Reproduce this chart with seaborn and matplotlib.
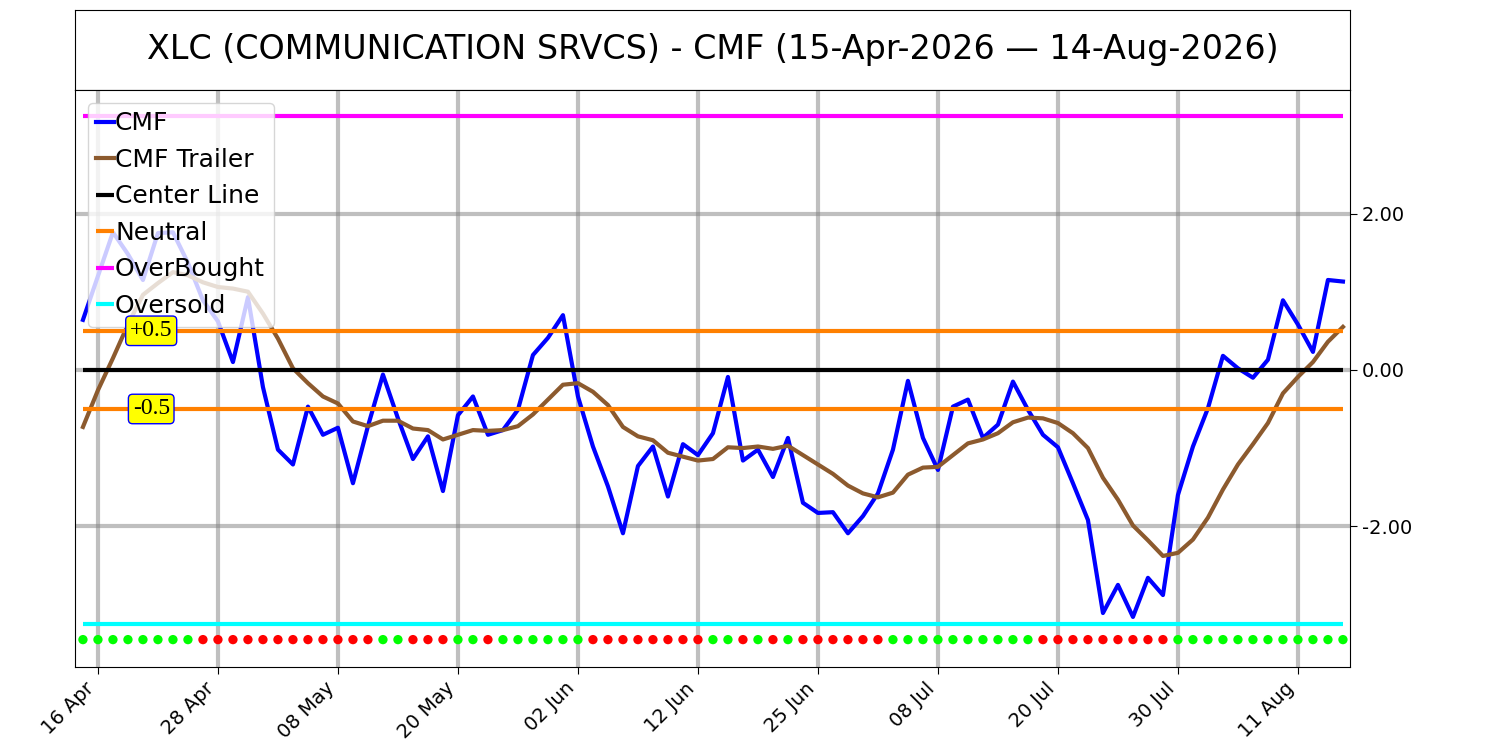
import numpy as np
import pandas as pd
import matplotlib
matplotlib.use('Agg')
import matplotlib.pyplot as plt
import seaborn as sns

# 거래일 (15-Apr-2026 ~ 14-Aug-2026, 미국 휴장일 제외)
holidays = ['2026-05-25', '2026-06-19', '2026-07-03']
dates = pd.bdate_range('2026-04-15', '2026-08-14')
dates = dates[~dates.isin(pd.to_datetime(holidays))]

cmf = [0.64, 1.20, 1.76, 1.48, 1.15, 1.75, 1.76, 1.37, 0.89, 0.62,
       0.10, 0.93, -0.22, -1.02, -1.21, -0.47, -0.83, -0.74, -1.45, -0.72,
       -0.06, -0.62, -1.14, -0.85, -1.55, -0.58, -0.34, -0.83, -0.77, -0.51,
       0.19, 0.41, 0.70, -0.34, -0.98, -1.49, -2.09, -1.23, -0.98, -1.62,
       -0.95, -1.09, -0.81, -0.09, -1.16, -1.02, -1.37, -0.87, -1.70, -1.83,
       -1.82, -2.09, -1.87, -1.58, -1.02, -0.14, -0.87, -1.28, -0.47, -0.38,
       -0.87, -0.70, -0.15, -0.51, -0.83, -0.99, -1.45, -1.92, -3.11, -2.75,
       -3.16, -2.66, -2.88, -1.60, -0.98, -0.49, 0.18, 0.02, -0.10, 0.13,
       0.89, 0.58, 0.23, 1.15, 1.13]

trailer = [-0.73, -0.26, 0.15, 0.58, 0.96, 1.11, 1.25, 1.21, 1.12, 1.06,
           1.04, 1.00, 0.72, 0.40, 0.02, -0.17, -0.34, -0.43, -0.66, -0.72,
           -0.65, -0.65, -0.75, -0.77, -0.89, -0.83, -0.77, -0.78, -0.77, -0.72,
           -0.57, -0.38, -0.19, -0.17, -0.28, -0.45, -0.73, -0.85, -0.90, -1.06,
           -1.11, -1.16, -1.14, -0.99, -1.00, -0.98, -1.01, -0.97, -1.09, -1.21,
           -1.33, -1.48, -1.58, -1.63, -1.57, -1.34, -1.25, -1.24, -1.09, -0.94,
           -0.89, -0.81, -0.67, -0.61, -0.62, -0.68, -0.81, -1.00, -1.38, -1.66,
           -1.99, -2.18, -2.38, -2.34, -2.17, -1.89, -1.53, -1.21, -0.95, -0.68,
           -0.30, -0.09, 0.10, 0.36, 0.55]

# G = 매수 신호, R = 매도 신호
signal = list("GGGGGGGGRRRRRRRRRRRRGGRRRGGRGGGGGGRRRRRRRRGGRGRGRRRRRR"
              "GGGGGGGGGGRRRRRRRRRGGGGGGGGGGGG")

center = 0.0
neutral = [0.5, -0.5]
overbought = 3.25
oversold = -3.25
dot_level = -3.45

title = "XLC (COMMUNICATION SRVCS) - CMF (15-Apr-2026 \u2014 14-Aug-2026)"

df = pd.DataFrame({'idx': np.arange(len(cmf)), 'cmf': cmf, 'trailer': trailer,
                   'signal': signal, 'dot': dot_level})

fig = plt.figure(figsize=(15, 7.5), dpi=100)

# 제목 박스
ax_t = fig.add_axes([0.05, 0.88, 0.85, 0.1067])
ax_t.set_xticks([])
ax_t.set_yticks([])
ax_t.text(0.5, 0.5, title, ha='center', va='center', fontsize=24)

ax = fig.add_axes([0.05, 0.1107, 0.85, 0.7693])
ax.set_axisbelow(True)
ax.grid(True, color='gray', alpha=0.5, lw=3)

x0, x1 = df.idx.min(), df.idx.max()
sns.lineplot(data=df, x='idx', y='cmf', color='blue', lw=3, label='CMF', ax=ax)
sns.lineplot(data=df, x='idx', y='trailer', color='#8c5a2e', lw=3, label='CMF Trailer', ax=ax)
ax.hlines(center, x0, x1, color='black', lw=3, label='Center Line')
ax.hlines(neutral[0], x0, x1, color='#ff8000', lw=3, label='Neutral')
ax.hlines(neutral[1], x0, x1, color='#ff8000', lw=3)
ax.hlines(overbought, x0, x1, color='magenta', lw=3, label='OverBought')
ax.hlines(oversold, x0, x1, color='cyan', lw=3, label='Oversold')

sns.scatterplot(data=df, x='idx', y='dot', hue='signal',
                palette={'G': '#00ff00', 'R': 'red'}, s=45, edgecolor='none',
                legend=False, ax=ax, zorder=5)

# 범례 위에 보이도록 zorder 높게
for lv, txt in zip(neutral, ['+0.5', '-0.5']):
    ax.text(4.55, lv, txt, ha='center', va='center', fontsize=17,
            family='Liberation Serif', zorder=12,
            bbox=dict(boxstyle='round,pad=0.18', fc='yellow', ec='blue'))

ax.set_xlim(-0.53, 84.47)
ax.set_ylim(-3.8, 3.58)
ax.yaxis.tick_right()
ax.set_yticks([-2, 0, 2])
ax.yaxis.set_major_formatter(matplotlib.ticker.FormatStrFormatter('%.2f'))
ax.tick_params(axis='both', labelsize=14, length=5)

tick_idx = list(range(1, len(dates), 8))
ax.set_xticks(tick_idx)
ax.set_xticklabels([dates[i].strftime('%d %b') for i in tick_idx],
                   rotation=45, ha='right', fontsize=14)
ax.set_xlabel('')
ax.set_ylabel('')

leg = ax.legend(loc='upper left', fontsize=18, handlelength=0.7,
                handletextpad=0.05, labelspacing=0.5, borderpad=0.35)
leg.set_zorder(10)

fig.savefig('out.png', dpi=100)
